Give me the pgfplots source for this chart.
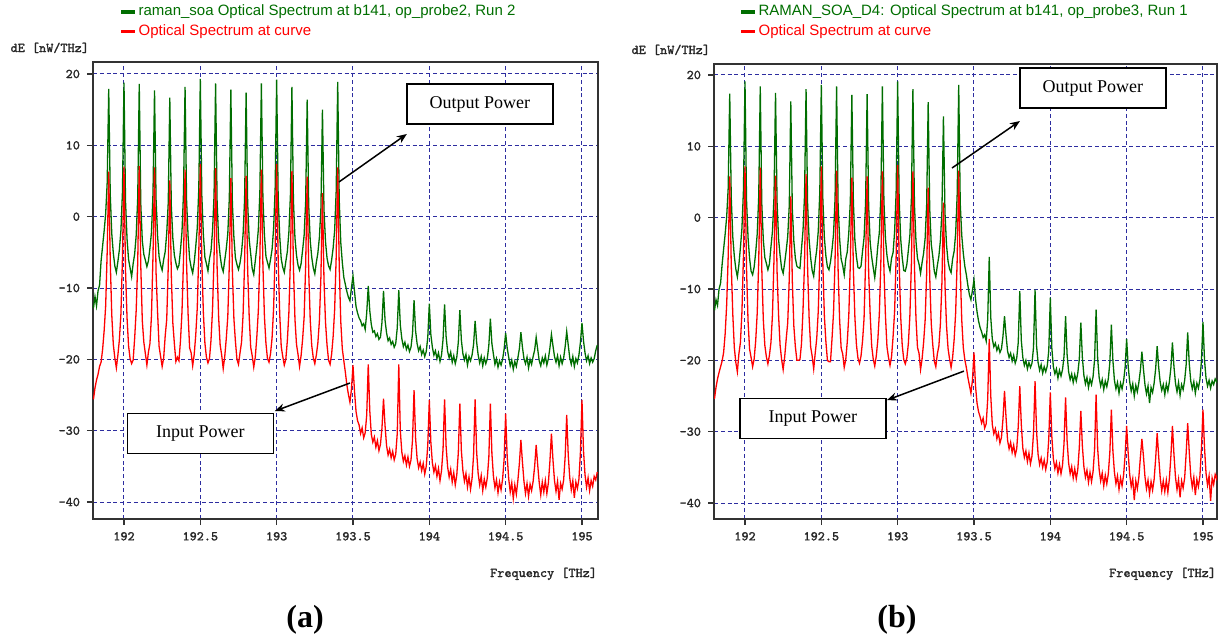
\documentclass[border=0pt]{standalone}
\usepackage{fontspec}
\setmainfont{Liberation Serif}
\newfontfamily\legfont{Liberation Sans}
\newfontfamily\tickfont{Latin Modern Mono}[FakeBold=1.2]
\usepackage{pgfplots}
\usepackage{pgfplotstable}
\pgfplotsset{compat=1.18}
\usetikzlibrary{arrows.meta}

\definecolor{sgreen}{RGB}{0,110,0}
\definecolor{sred}{RGB}{255,0,0}
\definecolor{gridblue}{RGB}{45,45,160}

% Spectrum (a): frequency [THz], output (g) and input (r) power density [dB]
\pgfplotstableread{
x g r
191.80 -12.8 -25.6
191.81 -11.2 -24.0
191.82 -12.5 -22.9
191.83 -10.4 -22.1
191.84 -9.6 -21.0
191.85 -6.2 -20.4
191.86 -4.1 -18.6
191.87 -2.0 -16.0
191.88 0.4 -12.5
191.89 4.8 -4.9
191.90 17.9 6.3
191.91 3.1 -6.2
191.92 -2.4 -13.8
191.93 -5.1 -17.9
191.94 -6.9 -19.8
191.95 -7.8 -21.2
191.96 -6.3 -19.4
191.97 -4.6 -17.2
191.98 -1.9 -13.6
191.99 3.5 -5.8
192.00 18.8 7.0
192.01 2.2 -7.5
192.02 -3.1 -14.2
192.03 -6.0 -18.1
192.04 -7.2 -19.9
192.05 -8.4 -20.6
192.06 -6.6 -20.1
192.07 -5.2 -17.0
192.08 -2.6 -13.1
192.09 2.7 -6.4
192.10 18.6 7.1
192.11 1.8 -6.9
192.12 -3.4 -14.6
192.13 -5.3 -17.6
192.14 -6.1 -19.2
192.15 -7.0 -20.8
192.16 -6.2 -19.0
192.17 -4.4 -17.8
192.18 -2.2 -13.9
192.19 3.2 -5.5
192.20 17.7 6.9
192.21 2.5 -7.8
192.22 -2.7 -13.4
192.23 -5.6 -18.2
192.24 -6.8 -19.6
192.25 -7.5 -21.0
192.26 -6.0 -19.8
192.27 -4.9 -16.7
192.28 -2.3 -14.4
192.29 2.0 -7.0
192.30 16.7 5.1
192.31 1.5 -8.2
192.32 -3.0 -14.9
192.33 -5.4 -17.8
192.34 -6.5 -20.3
192.35 -7.3 -19.7
192.36 -6.8 -20.2
192.37 -4.7 -17.4
192.38 -2.1 -13.3
192.39 3.4 -6.0
192.40 18.2 6.6
192.41 2.3 -6.6
192.42 -2.8 -13.7
192.43 -5.9 -18.4
192.44 -7.1 -19.1
192.45 -7.9 -20.9
192.46 -6.4 -19.3
192.47 -4.2 -16.6
192.48 -1.6 -12.8
192.49 3.9 -5.1
192.50 19.3 7.4
192.51 2.9 -6.3
192.52 -2.5 -13.5
192.53 -5.7 -17.7
192.54 -6.6 -19.7
192.55 -7.6 -20.5
192.56 -5.9 -19.9
192.57 -4.8 -17.3
192.58 -2.0 -13.0
192.59 3.0 -5.7
192.60 18.7 6.8
192.61 2.1 -7.1
192.62 -3.3 -14.1
192.63 -5.5 -18.0
192.64 -7.0 -19.4
192.65 -7.7 -21.3
192.66 -6.1 -19.6
192.67 -4.5 -17.1
192.68 -2.4 -14.0
192.69 2.6 -6.7
192.70 17.8 5.4
192.71 1.9 -7.6
192.72 -2.9 -14.3
192.73 -5.8 -17.5
192.74 -6.7 -20.0
192.75 -7.4 -20.7
192.76 -6.5 -19.1
192.77 -5.0 -17.6
192.78 -2.5 -13.8
192.79 2.4 -6.5
192.80 17.4 5.7
192.81 2.0 -7.3
192.82 -3.2 -13.9
192.83 -5.2 -18.3
192.84 -7.3 -19.5
192.85 -8.1 -21.1
192.86 -6.2 -19.7
192.87 -4.3 -16.9
192.88 -1.8 -13.2
192.89 3.3 -5.9
192.90 18.7 6.6
192.91 2.6 -6.8
192.92 -2.6 -14.0
192.93 -5.6 -17.8
192.94 -6.4 -19.9
192.95 -7.2 -20.4
192.96 -6.0 -19.2
192.97 -4.6 -17.0
192.98 -1.7 -12.9
192.99 3.8 -5.3
193.00 19.2 7.4
193.01 2.7 -6.1
193.02 -2.7 -13.6
193.03 -5.9 -18.2
193.04 -7.1 -19.6
193.05 -7.8 -20.8
193.06 -6.3 -20.0
193.07 -4.9 -17.4
193.08 -2.2 -13.5
193.09 2.9 -6.2
193.10 18.2 6.4
193.11 2.2 -7.2
193.12 -3.0 -14.4
193.13 -5.4 -17.9
193.14 -6.8 -19.3
193.15 -7.5 -21.0
193.16 -6.6 -19.5
193.17 -4.7 -17.2
193.18 -2.6 -14.1
193.19 2.1 -6.9
193.20 16.4 5.6
193.21 1.6 -7.7
193.22 -3.4 -14.5
193.23 -5.7 -18.1
193.24 -7.2 -19.8
193.25 -8.0 -20.6
193.26 -6.4 -19.4
193.27 -5.1 -17.7
193.28 -2.9 -14.6
193.29 1.2 -8.4
193.30 15.0 3.3
193.31 1.0 -8.8
193.32 -3.5 -14.8
193.33 -5.8 -18.0
193.34 -6.9 -20.1
193.35 -7.4 -20.7
193.36 -6.1 -19.3
193.37 -4.4 -16.8
193.38 -1.9 -13.0
193.39 3.6 -5.6
193.40 18.9 6.9
193.41 2.3 -7.0
193.42 -3.6 -14.7
193.43 -6.4 -18.5
193.44 -8.5 -20.2
193.45 -9.5 -21.8
193.46 -10.5 -23.6
193.47 -11.3 -24.9
193.48 -11.8 -26.0
193.49 -10.0 -24.2
193.50 -8.3 -20.8
193.51 -10.5 -24.5
193.52 -12.6 -27.3
193.53 -13.5 -28.6
193.54 -14.2 -29.2
193.55 -14.6 -30.4
193.56 -15.3 -29.6
193.57 -15.0 -31.0
193.58 -15.8 -30.3
193.59 -13.5 -27.8
193.60 -9.7 -20.7
193.61 -13.2 -27.2
193.62 -15.1 -30.5
193.63 -16.2 -31.6
193.64 -16.0 -30.9
193.65 -16.8 -32.3
193.66 -16.4 -31.4
193.67 -17.2 -32.8
193.68 -16.9 -31.9
193.69 -14.8 -29.6
193.70 -10.4 -25.5
193.71 -14.5 -29.3
193.72 -16.3 -32.1
193.73 -17.4 -33.4
193.74 -17.0 -32.6
193.75 -17.9 -33.8
193.76 -17.5 -32.9
193.77 -18.3 -34.1
193.78 -17.8 -33.3
193.79 -15.6 -30.4
193.80 -10.3 -20.7
193.81 -15.2 -30.0
193.82 -17.1 -33.0
193.83 -18.2 -34.3
193.84 -17.6 -33.5
193.85 -18.6 -34.8
193.86 -18.0 -33.7
193.87 -18.9 -35.0
193.88 -18.3 -34.1
193.89 -16.4 -31.3
193.90 -11.7 -24.3
193.91 -16.0 -31.0
193.92 -17.8 -33.9
193.93 -18.8 -35.2
193.94 -18.2 -34.4
193.95 -19.3 -35.6
193.96 -18.7 -34.6
193.97 -19.6 -36.1
193.98 -18.9 -35.0
193.99 -16.9 -32.0
194.00 -12.2 -25.7
194.01 -16.5 -31.6
194.02 -18.3 -34.5
194.03 -19.4 -35.8
194.04 -18.8 -34.9
194.05 -19.9 -36.4
194.06 -19.1 -35.3
194.07 -20.3 -37.0
194.08 -19.4 -35.6
194.09 -17.2 -32.6
194.10 -12.3 -25.6
194.11 -16.8 -32.2
194.12 -18.9 -35.1
194.13 -19.8 -36.5
194.14 -19.0 -35.4
194.15 -20.4 -37.2
194.16 -19.5 -35.9
194.17 -20.6 -37.6
194.18 -19.7 -36.2
194.19 -17.6 -33.1
194.20 -13.1 -26.2
194.21 -17.3 -32.8
194.22 -19.2 -35.6
194.23 -20.1 -37.1
194.24 -19.3 -36.0
194.25 -20.8 -37.9
194.26 -19.6 -36.5
194.27 -20.2 -38.2
194.28 -19.4 -36.7
194.29 -17.9 -33.4
194.30 -14.6 -25.6
194.31 -17.6 -33.0
194.32 -19.4 -36.0
194.33 -20.5 -37.6
194.34 -19.6 -36.3
194.35 -20.9 -38.4
194.36 -19.8 -36.8
194.37 -20.6 -37.9
194.38 -19.9 -36.6
194.39 -18.0 -33.7
194.40 -14.3 -26.2
194.41 -17.8 -33.2
194.42 -19.3 -36.4
194.43 -20.7 -38.0
194.44 -19.9 -36.9
194.45 -21.1 -38.7
194.46 -20.2 -37.2
194.47 -20.8 -38.3
194.48 -20.0 -36.8
194.49 -18.6 -34.0
194.50 -16.3 -27.6
194.51 -18.4 -33.6
194.52 -19.7 -36.7
194.53 -20.9 -38.6
194.54 -20.1 -37.3
194.55 -21.4 -39.5
194.56 -20.3 -37.6
194.57 -21.0 -38.9
194.58 -19.8 -37.0
194.59 -18.5 -34.6
194.60 -16.2 -31.3
194.61 -18.3 -34.4
194.62 -19.9 -37.1
194.63 -20.6 -38.8
194.64 -19.7 -37.4
194.65 -21.2 -39.2
194.66 -20.0 -37.5
194.67 -20.7 -38.4
194.68 -19.6 -37.1
194.69 -18.7 -35.0
194.70 -16.9 -32.0
194.71 -18.6 -34.8
194.72 -20.2 -37.3
194.73 -20.9 -39.0
194.74 -19.8 -37.2
194.75 -20.5 -38.6
194.76 -19.5 -37.0
194.77 -20.8 -38.8
194.78 -19.9 -37.3
194.79 -18.4 -34.3
194.80 -16.5 -30.4
194.81 -18.1 -34.1
194.82 -19.6 -37.0
194.83 -20.4 -38.5
194.84 -19.5 -37.1
194.85 -20.9 -39.7
194.86 -19.7 -37.4
194.87 -20.6 -38.2
194.88 -19.8 -36.9
194.89 -18.2 -33.6
194.90 -16.1 -27.8
194.91 -18.0 -33.4
194.92 -19.8 -36.6
194.93 -20.7 -38.3
194.94 -19.6 -37.0
194.95 -21.0 -39.4
194.96 -19.9 -37.2
194.97 -20.5 -38.1
194.98 -19.4 -36.8
194.99 -17.6 -33.0
195.00 -14.9 -25.7
195.01 -17.4 -32.8
195.02 -19.1 -36.2
195.03 -20.2 -37.9
195.04 -19.5 -36.6
195.05 -20.6 -38.4
195.06 -19.8 -37.0
195.07 -20.4 -37.8
195.08 -19.9 -36.4
195.09 -18.8 -36.9
195.10 -18.0 -35.8
}\specA

% Spectrum (b)
\pgfplotstableread{
x g r
191.80 -13.0 -25.4
191.81 -11.5 -23.8
191.82 -12.3 -22.6
191.83 -10.0 -21.7
191.84 -9.2 -20.9
191.85 -6.6 -20.1
191.86 -4.4 -18.9
191.87 -2.3 -16.3
191.88 0.1 -12.2
191.89 4.2 -5.4
191.90 17.4 5.8
191.91 2.8 -6.6
191.92 -2.7 -13.5
191.93 -5.4 -18.2
191.94 -7.2 -20.3
191.95 -8.3 -21.6
191.96 -6.6 -19.1
191.97 -4.2 -17.5
191.98 -1.5 -13.2
191.99 3.9 -5.3
192.00 19.1 7.2
192.01 2.5 -7.1
192.02 -2.8 -14.5
192.03 -5.7 -18.4
192.04 -7.5 -19.6
192.05 -8.0 -20.9
192.06 -6.9 -19.8
192.07 -4.9 -17.3
192.08 -2.3 -13.4
192.09 3.0 -6.1
192.10 18.4 7.0
192.11 2.0 -7.2
192.12 -3.1 -14.3
192.13 -5.6 -17.9
192.14 -6.4 -19.5
192.15 -7.3 -20.5
192.16 -6.5 -19.3
192.17 -4.1 -17.5
192.18 -1.9 -13.6
192.19 2.9 -5.8
192.20 17.5 5.9
192.21 2.2 -7.5
192.22 -3.0 -13.7
192.23 -5.3 -17.9
192.24 -7.1 -19.9
192.25 -7.8 -21.3
192.26 -6.3 -19.5
192.27 -4.6 -17.0
192.28 -2.6 -14.7
192.29 1.7 -8.6
192.30 16.3 3.0
192.31 1.2 -8.9
192.32 -3.3 -15.2
192.33 -5.7 -18.1
192.34 -6.8 -20.0
192.35 -7.0 -20.0
192.36 -7.1 -19.9
192.37 -4.4 -17.7
192.38 -1.8 -13.0
192.39 3.1 -6.3
192.40 18.0 6.1
192.41 2.0 -6.9
192.42 -3.1 -14.0
192.43 -5.6 -18.1
192.44 -7.4 -19.4
192.45 -8.2 -21.2
192.46 -6.1 -19.0
192.47 -4.5 -16.9
192.48 -1.9 -13.1
192.49 3.6 -5.4
192.50 18.6 7.2
192.51 2.6 -6.6
192.52 -2.8 -13.8
192.53 -5.4 -17.4
192.54 -6.9 -20.0
192.55 -7.3 -20.2
192.56 -6.2 -20.2
192.57 -4.5 -17.0
192.58 -2.3 -13.3
192.59 2.7 -6.0
192.60 18.4 6.6
192.61 1.8 -7.4
192.62 -3.0 -14.4
192.63 -5.8 -18.3
192.64 -6.7 -19.1
192.65 -8.0 -21.0
192.66 -5.8 -19.9
192.67 -4.8 -17.4
192.68 -2.1 -13.7
192.69 2.3 -6.4
192.70 17.2 5.6
192.71 2.2 -7.3
192.72 -3.2 -14.0
192.73 -5.5 -17.8
192.74 -7.0 -19.7
192.75 -7.1 -20.4
192.76 -6.8 -19.4
192.77 -4.7 -17.3
192.78 -2.8 -14.1
192.79 2.1 -6.2
192.80 17.3 5.8
192.81 1.7 -7.6
192.82 -3.5 -13.6
192.83 -5.5 -18.0
192.84 -7.0 -19.8
192.85 -8.4 -20.8
192.86 -6.5 -19.4
192.87 -4.0 -17.2
192.88 -2.1 -13.5
192.89 3.0 -6.2
192.90 18.4 6.5
192.91 2.3 -7.1
192.92 -2.9 -13.7
192.93 -5.3 -18.1
192.94 -6.7 -19.6
192.95 -7.5 -20.7
192.96 -5.7 -19.5
192.97 -4.9 -16.7
192.98 -2.0 -13.2
192.99 3.5 -5.6
193.00 19.1 7.4
193.01 2.4 -6.4
193.02 -3.0 -13.9
193.03 -5.6 -17.9
193.04 -7.4 -19.9
193.05 -7.5 -20.5
193.06 -6.6 -19.7
193.07 -4.6 -17.7
193.08 -2.5 -13.8
193.09 2.6 -6.5
193.10 18.0 6.5
193.11 1.9 -6.9
193.12 -3.3 -14.1
193.13 -5.7 -18.2
193.14 -6.5 -19.0
193.15 -7.8 -21.3
193.16 -6.3 -19.8
193.17 -5.0 -17.5
193.18 -2.9 -14.4
193.19 1.8 -7.9
193.20 16.2 4.2
193.21 1.3 -8.3
193.22 -3.7 -14.8
193.23 -5.4 -17.8
193.24 -7.5 -20.1
193.25 -8.3 -20.9
193.26 -6.7 -19.1
193.27 -5.4 -18.0
193.28 -3.2 -14.9
193.29 0.9 -9.1
193.30 14.2 2.1
193.31 0.7 -9.4
193.32 -3.8 -15.1
193.33 -6.1 -18.3
193.34 -7.2 -19.8
193.35 -7.7 -21.0
193.36 -5.8 -19.6
193.37 -4.7 -17.1
193.38 -2.2 -13.3
193.39 3.3 -5.9
193.40 18.6 6.6
193.41 2.0 -7.3
193.42 -2.5 -14.4
193.43 -5.0 -18.2
193.44 -6.8 -19.9
193.45 -8.0 -21.0
193.46 -9.5 -22.4
193.47 -10.8 -23.5
193.48 -11.5 -24.6
193.49 -10.2 -22.8
193.50 -8.7 -18.9
193.51 -11.4 -23.6
193.52 -13.2 -26.0
193.53 -14.5 -27.2
193.54 -15.4 -27.9
193.55 -16.0 -28.8
193.56 -16.8 -28.1
193.57 -16.4 -29.5
193.58 -17.3 -28.9
193.59 -14.2 -25.4
193.60 -5.5 -17.0
193.61 -14.0 -25.0
193.62 -17.0 -29.0
193.63 -18.1 -30.3
193.64 -17.6 -29.6
193.65 -18.6 -31.0
193.66 -18.0 -30.2
193.67 -18.9 -31.6
193.68 -18.4 -30.8
193.69 -16.6 -28.2
193.70 -13.8 -24.3
193.71 -16.5 -28.0
193.72 -18.7 -31.2
193.73 -19.6 -32.4
193.74 -19.0 -31.5
193.75 -20.1 -32.9
193.76 -19.3 -31.9
193.77 -20.4 -33.3
193.78 -19.7 -32.4
193.79 -17.5 -29.3
193.80 -10.3 -23.6
193.81 -17.2 -29.0
193.82 -19.6 -32.3
193.83 -20.7 -33.6
193.84 -20.0 -32.7
193.85 -21.2 -34.2
193.86 -20.3 -33.0
193.87 -21.0 -34.5
193.88 -20.4 -33.4
193.89 -18.2 -30.2
193.90 -10.1 -22.9
193.91 -18.0 -30.0
193.92 -20.3 -33.2
193.93 -21.4 -34.6
193.94 -20.6 -33.7
193.95 -21.8 -35.0
193.96 -20.9 -34.0
193.97 -21.6 -35.3
193.98 -20.8 -34.2
193.99 -18.6 -31.0
194.00 -11.2 -24.5
194.01 -18.3 -30.7
194.02 -20.9 -33.8
194.03 -21.9 -35.2
194.04 -21.2 -34.3
194.05 -22.5 -35.8
194.06 -21.4 -34.6
194.07 -22.2 -35.9
194.08 -21.3 -34.7
194.09 -19.4 -31.6
194.10 -13.8 -25.2
194.11 -19.2 -31.3
194.12 -21.6 -34.4
194.13 -22.7 -35.9
194.14 -21.9 -34.9
194.15 -23.1 -36.5
194.16 -22.0 -35.2
194.17 -22.9 -36.6
194.18 -21.8 -35.3
194.19 -19.8 -32.2
194.20 -14.7 -27.1
194.21 -19.6 -32.0
194.22 -22.1 -34.9
194.23 -23.3 -36.4
194.24 -22.4 -35.4
194.25 -23.8 -37.1
194.26 -22.6 -35.7
194.27 -23.4 -37.0
194.28 -22.3 -35.6
194.29 -19.9 -32.5
194.30 -12.9 -24.8
194.31 -19.7 -32.3
194.32 -22.4 -35.3
194.33 -23.6 -36.9
194.34 -22.7 -35.8
194.35 -24.1 -37.6
194.36 -22.9 -36.1
194.37 -23.7 -37.3
194.38 -22.6 -35.9
194.39 -20.3 -32.9
194.40 -15.0 -26.9
194.41 -20.0 -32.7
194.42 -22.8 -35.7
194.43 -24.0 -37.3
194.44 -23.1 -36.2
194.45 -24.6 -38.1
194.46 -23.2 -36.5
194.47 -24.0 -37.6
194.48 -22.9 -36.1
194.49 -21.0 -33.3
194.50 -17.0 -29.2
194.51 -20.8 -33.0
194.52 -23.0 -36.0
194.53 -24.3 -37.7
194.54 -23.3 -36.6
194.55 -25.0 -39.6
194.56 -23.5 -36.9
194.57 -24.4 -38.0
194.58 -23.1 -36.4
194.59 -21.4 -33.6
194.60 -18.8 -31.0
194.61 -21.2 -33.4
194.62 -23.4 -36.3
194.63 -24.7 -38.0
194.64 -23.6 -36.8
194.65 -26.0 -38.7
194.66 -23.8 -37.0
194.67 -24.5 -38.2
194.68 -23.2 -36.7
194.69 -21.2 -33.8
194.70 -18.0 -30.2
194.71 -21.0 -33.5
194.72 -23.1 -36.5
194.73 -24.2 -38.3
194.74 -23.4 -36.9
194.75 -24.8 -38.4
194.76 -23.3 -36.8
194.77 -24.3 -38.5
194.78 -23.0 -36.6
194.79 -21.0 -33.4
194.80 -17.5 -29.2
194.81 -20.9 -33.2
194.82 -23.2 -36.4
194.83 -24.4 -38.1
194.84 -23.1 -36.7
194.85 -24.9 -39.2
194.86 -23.4 -36.9
194.87 -24.1 -37.9
194.88 -22.8 -36.5
194.89 -20.6 -33.0
194.90 -16.1 -28.8
194.91 -20.4 -32.8
194.92 -22.9 -36.2
194.93 -24.0 -37.8
194.94 -23.0 -36.4
194.95 -24.6 -38.9
194.96 -23.2 -36.7
194.97 -23.9 -37.7
194.98 -22.7 -36.2
194.99 -20.1 -32.4
195.00 -14.6 -26.9
195.01 -19.9 -32.2
195.02 -22.5 -35.8
195.03 -23.6 -37.5
195.04 -22.8 -36.2
195.05 -23.9 -39.7
195.06 -22.9 -36.5
195.07 -23.4 -37.4
195.08 -22.6 -36.0
195.09 -23.0 -36.6
195.10 -22.4 -35.5
}\specB

\tikzset{
  annot/.style={draw=black, line width=0.75pt, fill=white, minimum width=73pt,
    minimum height=20pt, inner sep=0pt, font=\fontsize{9}{10}\selectfont},
  pointer/.style={black, line width=0.75pt, -{Stealth[length=5pt,width=4pt]}},
}

\pgfplotsset{
  spectrum/.style={
    scale only axis,
    xmin=191.797,
    xtick={192,192.5,193,193.5,194,194.5,195},
    xticklabels={192,192.5,193,193.5,194,194.5,195},
    ytick={-40,-30,-20,-10,0,10,20},
    yticklabels={-40,-30,-20,-10,0,10,20},
    grid=major,
    major grid style={gridblue, line width=0.5pt, dash pattern=on 2pt off 1.4pt},
    axis line style={black!80, line width=0.8pt},
    tick style={black!80, line width=0.6pt},
    tick align=outside,
    major tick length=3pt,
    tick pos=left,
    ticklabel style={font=\tickfont\fontsize{6.7}{7}\selectfont, black!85},
    clip mode=individual,
    every axis y label/.style={at={(rel axis cs:0,1)}, anchor=base east,
      xshift=1.5pt, yshift=5pt, font=\tickfont\fontsize{6.7}{7}\selectfont, black!85},
    every axis x label/.style={at={(rel axis cs:1,0)}, anchor=base east,
      xshift=3pt, yshift=-29pt, font=\tickfont\fontsize{6.7}{7}\selectfont, black!85},
    xlabel={Frequency [THz]},
    ylabel={dE [nW/THz]},
    legend cell align=left,
    legend image code/.code={\draw[line width=1.6pt] (0pt,0pt) -- (7pt,0pt);},
    legend style={anchor=north west, draw=none, fill=none, inner sep=0pt,
      font=\legfont\fontsize{7.5}{8.5}\selectfont, row sep=0.8pt,
      nodes={inner sep=1pt}},
  },
  outplot/.style={sgreen, line width=0.65pt, mark=none},
  inplot/.style={sred, line width=0.65pt, mark=none},
}

\begin{document}
\begin{tikzpicture}
\useasboundingbox (0,0) rectangle (610pt,319pt);

% ---------------- (a) ----------------
\begin{axis}[spectrum,
  at={(46.5pt,59.5pt)}, anchor=south west,
  width=252.5pt, height=228.5pt,
  xmax=195.105, ymin=-42.38, ymax=21.68,
  legend style={at={(rel axis cs:0.0515,1.13)}}]
\addplot[outplot] table[x=x,y=g]{\specA};
\addlegendentry{\textcolor{sgreen}{raman\_soa Optical Spectrum at b141, op\_probe2, Run 2}}
\addplot[inplot] table[x=x,y=r]{\specA};
\addlegendentry{\textcolor{sred}{Optical Spectrum at curve}}
\node[annot] at (axis cs:194.331,15.79) {Output Power};
\draw[pointer] (axis cs:193.408,4.86) -- (axis cs:193.853,11.59);
\node[annot] at (axis cs:192.501,-30.40) {Input Power};
\draw[pointer] (axis cs:193.48,-23.32) -- (axis cs:192.988,-27.25);
\end{axis}

% ---------------- (b) ----------------
\begin{axis}[spectrum,
  at={(357pt,59.5pt)}, anchor=south west,
  width=251.5pt, height=227.5pt,
  xmax=195.092, ymin=-42.24, ymax=21.54,
  legend style={at={(rel axis cs:0.0497,1.135)}}]
\addplot[outplot] table[x=x,y=g]{\specB};
\addlegendentry{\textcolor{sgreen}{RAMAN\_SOA\_D4: Optical Spectrum at b141, op\_probe3, Run 1}}
\addplot[inplot] table[x=x,y=r]{\specB};
\addlegendentry{\textcolor{sred}{Optical Spectrum at curve}}
\node[annot] at (axis cs:194.279,18.18) {Output Power};
\draw[pointer] (axis cs:193.356,6.96) -- (axis cs:193.801,13.55);
\node[annot] at (axis cs:192.445,-28.18) {Input Power};
\draw[pointer] (axis cs:193.434,-21.51) -- (axis cs:192.93,-25.58);
\end{axis}

\node[font=\bfseries\fontsize{16}{18}\selectfont] at (152.5pt,9pt) {(a)};
\node[font=\bfseries\fontsize{16}{18}\selectfont] at (448.5pt,9pt) {(b)};
\end{tikzpicture}
\end{document}
